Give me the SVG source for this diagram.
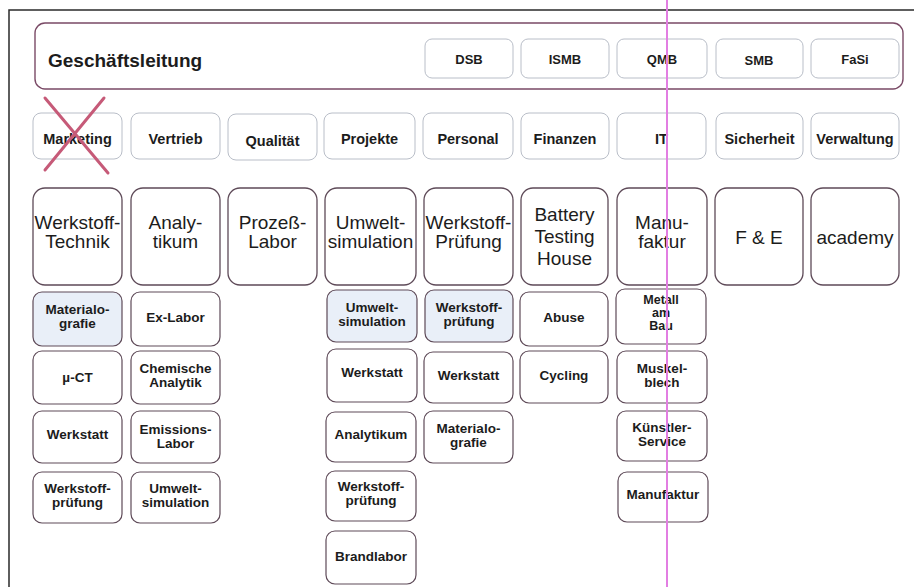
<svg xmlns="http://www.w3.org/2000/svg" width="914" height="587" viewBox="0 0 914 587">
<style>
text{font-family:"Liberation Sans",Arial,sans-serif;fill:#1c1c1c;text-anchor:middle}
.gl{fill:#fff;stroke:#7a4a66;stroke-width:1.4}
.lt{fill:#fff;stroke:#b9bec8;stroke-width:1}
.big{fill:#fff;stroke:#5e4a58;stroke-width:1.3}
.sub{fill:#fff;stroke:#5e4a58;stroke-width:1.2}
.blue{fill:#e9eff8}
.t13{font-size:13px;font-weight:bold}
.t14{font-size:14.5px;font-weight:bold}
.t19{font-size:19px}
.s14{font-size:13.5px;font-weight:bold}
.s12{font-size:12.5px;font-weight:bold}
.title{font-size:19px;font-weight:bold;text-anchor:start}
</style>
<rect width="914" height="587" fill="#fff"/>
<g id="frame" fill="none" stroke="#2a2a2a" stroke-width="1.5">
<path d="M9 587 V10 H914"/>
</g>
<g id="connectors"></g>
<g id="geschaeftsleitung">
<rect class="gl" x="35" y="23" width="868" height="66" rx="10"/>
<text class="title" x="48" y="67">Geschäftsleitung</text>
</g>
<g id="dsb"><rect class="lt" x="425" y="39" width="88" height="39" rx="7"/><text class="t13" x="469" y="64">DSB</text></g>
<g id="ismb"><rect class="lt" x="521" y="39" width="88" height="39" rx="7"/><text class="t13" x="565" y="64">ISMB</text></g>
<g id="qmb"><rect class="lt" x="617" y="39" width="90" height="39" rx="7"/><text class="t13" x="662" y="64">QMB</text></g>
<g id="smb"><rect class="lt" x="716" y="39" width="87" height="39" rx="7"/><text class="t13" x="759" y="65">SMB</text></g>
<g id="fasi"><rect class="lt" x="811" y="39" width="88" height="39" rx="7"/><text class="t13" x="855" y="64">FaSi</text></g>

<g id="marketing"><rect class="lt" x="33" y="113" width="89" height="46" rx="8"/><text class="t14" x="77.5" y="144">Marketing</text>
<path d="M45 98 L108 173 M104 98 L45 170" stroke="#c65a78" stroke-width="3" fill="none" stroke-linecap="round"/></g>
<g id="vertrieb"><rect class="lt" x="131" y="113" width="89" height="46" rx="8"/><text class="t14" x="175.5" y="144">Vertrieb</text></g>
<g id="qualitaet"><rect class="lt" x="228" y="114" width="89" height="46" rx="8"/><text class="t14" x="272.5" y="146">Qualität</text></g>
<g id="projekte"><rect class="lt" x="324" y="113" width="91" height="46" rx="8"/><text class="t14" x="369.5" y="144">Projekte</text></g>
<g id="personal"><rect class="lt" x="423" y="113" width="90" height="46" rx="8"/><text class="t14" x="468" y="144">Personal</text></g>
<g id="finanzen"><rect class="lt" x="521" y="113" width="88" height="46" rx="8"/><text class="t14" x="565" y="144">Finanzen</text></g>
<g id="it"><rect class="lt" x="617" y="113" width="89" height="46" rx="8"/><text class="t14" x="661.5" y="144">IT</text></g>
<g id="sicherheit"><rect class="lt" x="716" y="113" width="87" height="46" rx="8"/><text class="t14" x="759.5" y="144">Sicherheit</text></g>
<g id="verwaltung"><rect class="lt" x="811" y="113" width="88" height="46" rx="8"/><text class="t14" x="855" y="144">Verwaltung</text></g>

<g id="werkstofftechnik"><rect class="big" x="33" y="188" width="89" height="97" rx="12"/><text class="t19" x="77.5" y="229">Werkstoff-</text><text class="t19" x="77.5" y="248">Technik</text></g>
<g id="analytikum"><rect class="big" x="131" y="188" width="89" height="97" rx="12"/><text class="t19" x="175.5" y="229">Analy-</text><text class="t19" x="175.5" y="248">tikum</text></g>
<g id="prozesslabor"><rect class="big" x="228" y="188" width="89" height="97" rx="12"/><text class="t19" x="272.5" y="229">Prozeß-</text><text class="t19" x="272.5" y="248">Labor</text></g>
<g id="umweltsimulation"><rect class="big" x="325" y="188" width="91" height="97" rx="12"/><text class="t19" x="370.5" y="229">Umwelt-</text><text class="t19" x="370.5" y="248">simulation</text></g>
<g id="werkstoffpruefung"><rect class="big" x="424" y="188" width="89" height="97" rx="12"/><text class="t19" x="468.5" y="229">Werkstoff-</text><text class="t19" x="468.5" y="248">Prüfung</text></g>
<g id="battery"><rect class="big" x="521" y="188" width="87" height="97" rx="12"/><text class="t19" x="564.5" y="221">Battery</text><text class="t19" x="564.5" y="243">Testing</text><text class="t19" x="564.5" y="265">House</text></g>
<g id="manufaktur"><rect class="big" x="617" y="188" width="90" height="97" rx="12"/><text class="t19" x="662" y="229">Manu-</text><text class="t19" x="662" y="248">faktur</text></g>
<g id="fue"><rect class="big" x="715" y="188" width="88" height="97" rx="12"/><text class="t19" x="759" y="244">F &amp; E</text></g>
<g id="academy"><rect class="big" x="811" y="188" width="88" height="97" rx="12"/><text class="t19" x="855" y="244">academy</text></g>

<g id="wt-materialografie"><rect class="sub blue" x="33" y="292" width="89" height="54" rx="9"/><text class="s14" x="77.5" y="314">Materialo-</text><text class="s14" x="77.5" y="328">grafie</text></g>
<g id="wt-mct"><rect class="sub" x="33" y="351" width="89" height="53" rx="9"/><text class="s14" x="77.5" y="382">µ-CT</text></g>
<g id="wt-werkstatt"><rect class="sub" x="33" y="411" width="89" height="52" rx="9"/><text class="s14" x="77.5" y="439">Werkstatt</text></g>
<g id="wt-werkstoffpruefung"><rect class="sub" x="33" y="472" width="89" height="51" rx="9"/><text class="s14" x="77.5" y="493">Werkstoff-</text><text class="s14" x="77.5" y="507">prüfung</text></g>

<g id="an-exlabor"><rect class="sub" x="131" y="292" width="89" height="54" rx="9"/><text class="s14" x="175.5" y="322">Ex-Labor</text></g>
<g id="an-chemische"><rect class="sub" x="131" y="351" width="89" height="53" rx="9"/><text class="s14" x="175.5" y="373">Chemische</text><text class="s14" x="175.5" y="387">Analytik</text></g>
<g id="an-emissions"><rect class="sub" x="131" y="411" width="89" height="52" rx="9"/><text class="s14" x="175.5" y="434">Emissions-</text><text class="s14" x="175.5" y="448">Labor</text></g>
<g id="an-umwelt"><rect class="sub" x="131" y="472" width="89" height="51" rx="9"/><text class="s14" x="175.5" y="493">Umwelt-</text><text class="s14" x="175.5" y="507">simulation</text></g>

<g id="us-umwelt"><rect class="sub blue" x="327" y="290" width="90" height="52" rx="9"/><text class="s14" x="372" y="312">Umwelt-</text><text class="s14" x="372" y="326">simulation</text></g>
<g id="us-werkstatt"><rect class="sub" x="327" y="349" width="90" height="53" rx="9"/><text class="s14" x="372" y="377">Werkstatt</text></g>
<g id="us-analytikum"><rect class="sub" x="326" y="412" width="90" height="50" rx="9"/><text class="s14" x="371" y="439">Analytikum</text></g>
<g id="us-werkstoffpruefung"><rect class="sub" x="326" y="471" width="90" height="50" rx="9"/><text class="s14" x="371" y="491">Werkstoff-</text><text class="s14" x="371" y="505">prüfung</text></g>
<g id="us-brandlabor"><rect class="sub" x="326" y="531" width="90" height="53" rx="9"/><text class="s14" x="371" y="561">Brandlabor</text></g>

<g id="wp-werkstoffpruefung"><rect class="sub blue" x="425" y="290" width="88" height="52" rx="9"/><text class="s14" x="469" y="312">Werkstoff-</text><text class="s14" x="469" y="326">prüfung</text></g>
<g id="wp-werkstatt"><rect class="sub" x="424" y="352" width="89" height="51" rx="9"/><text class="s14" x="468.5" y="380">Werkstatt</text></g>
<g id="wp-materialografie"><rect class="sub" x="424" y="411" width="89" height="52" rx="9"/><text class="s14" x="468.5" y="433">Materialo-</text><text class="s14" x="468.5" y="447">grafie</text></g>

<g id="bt-abuse"><rect class="sub" x="520" y="292" width="88" height="54" rx="9"/><text class="s14" x="564" y="322">Abuse</text></g>
<g id="bt-cycling"><rect class="sub" x="520" y="351" width="88" height="52" rx="9"/><text class="s14" x="564" y="380">Cycling</text></g>

<g id="mf-metall"><rect class="sub" x="616" y="289" width="90" height="55" rx="9"/><text class="s12" x="661" y="304">Metall</text><text class="s12" x="661" y="317">am</text><text class="s12" x="661" y="330">Bau</text></g>
<g id="mf-muskelblech"><rect class="sub" x="617" y="351" width="90" height="52" rx="9"/><text class="s14" x="662" y="373">Muskel-</text><text class="s14" x="662" y="387">blech</text></g>
<g id="mf-kuenstler"><rect class="sub" x="617" y="411" width="90" height="50" rx="9"/><text class="s14" x="662" y="432">Künstler-</text><text class="s14" x="662" y="446">Service</text></g>
<g id="mf-manufaktur"><rect class="sub" x="618" y="472" width="90" height="50" rx="9"/><text class="s14" x="663" y="499">Manufaktur</text></g>

<g id="marker-line"><path d="M667 0 V587" stroke="#e27ee2" stroke-width="2" fill="none"/></g>
</svg>
